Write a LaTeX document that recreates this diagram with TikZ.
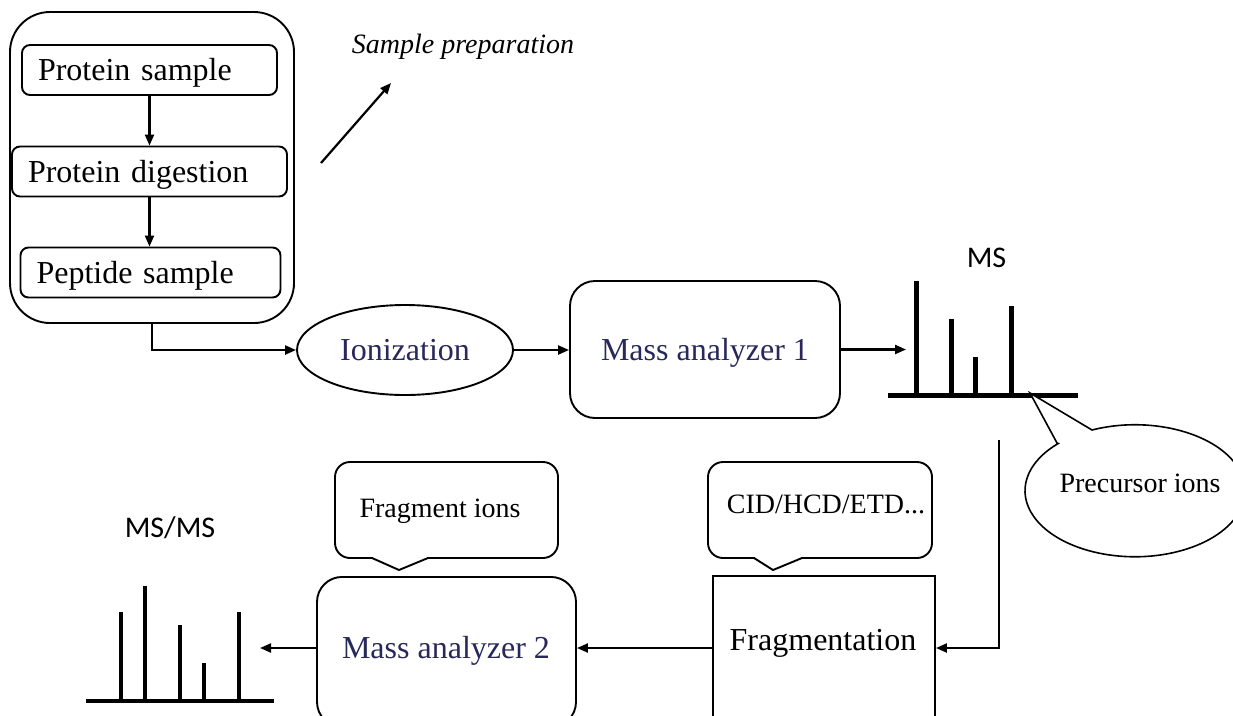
\documentclass[tikz,border=0pt]{standalone}
\usepackage{fontspec}
\setmainfont{Liberation Serif}
\newfontfamily\calfont{Carlito}
\usetikzlibrary{shapes.geometric,arrows.meta}
\definecolor{navy}{RGB}{40,40,90}
\begin{document}
\begin{tikzpicture}[x=1pt,y=-1pt,
  line width=1.9pt,
  arr/.style={line width=2.2pt,-{Triangle[length=11pt,width=9pt]}},
  rbox/.style={draw, rounded corners=#1, inner sep=0pt},
  rbox/.default=25pt,
  f32/.style={font=\fontsize{32}{36}\selectfont},
  f28/.style={font=\fontsize{28}{32}\selectfont},
  sansl/.style={font=\calfont\fontsize{30}{34}\selectfont},
  sbox/.style={draw, rounded corners=8pt, f32, align=left, inner xsep=16pt, inner ysep=0pt,
    text height=21pt, text depth=0pt, minimum height=50pt},
  spec/.style={line width=5pt},
  specb/.style={line width=4.5pt},
]
\useasboundingbox (0,0) rectangle (1233,715);
\fill[white] (0,0) rectangle (1233,715);
\clip (0,0) rectangle (1233,715);

% sample preparation group
\node[rbox=40pt, minimum width=284pt, minimum height=311pt] (outer) at (152,167.5) {};
\node[sbox, text width=223pt] (ps) at (149.5,70) {Protein sample};
\node[sbox, text width=243pt] (pd) at (149.5,171.5) {Protein digestion};
\node[sbox, text width=228pt] (pep) at (150.5,272.5) {Peptide sample};
\draw[arr] (ps.south) -- (ps.south |- pd.north);
\draw[arr] (pd.south) -- (pd.south |- pep.north);

\coordinate (sp1) at (321,163);
\coordinate (sp2) at (391,83);
\draw[arr] (sp1) -- (sp2);
\node[font=\itshape\fontsize{28}{32}\selectfont, anchor=base] (spt) at (463,53) {Sample preparation};

% ionization and MS1
\node[ellipse, draw, minimum width=216pt, minimum height=90pt, inner sep=0pt, f32, text=navy,
  text height=21pt, text depth=0pt] (ion) at (405,350) {Ionization};
\draw[arr] (outer.south) |- (ion.west);
\node[rbox=25pt, minimum width=270pt, minimum height=137pt, f32, text=navy,
  text height=21pt, text depth=0pt] (ma1) at (705,349.5) {Mass analyzer 1};
\draw[arr] (ion.east) -- (ion.east -| ma1.west);
\coordinate (msin) at (906,349.5);
\draw[arr] (ma1.east) -- (msin);

% MS spectrum
\draw[spec] (888,395) -- (1078,395);
\foreach \x/\t in {916/281,951/319,975/357,1011/306} \draw[spec] (\x,395) -- (\x,\t);
\node[sansl, anchor=base] (mslab) at (986.5,267) {MS};

% precursor ions callout
\filldraw[fill=white, line width=1.6pt] (1057,443) -- (1030,393) -- (1092,430)
  arc[start angle=247, end angle=585.7, x radius=110, y radius=66] -- cycle;
\node[f28, anchor=base] (prec) at (1140,492) {Precursor ions};

% fragmentation
\node[draw, minimum width=222pt, minimum height=144pt, inner sep=0pt] (frag) at (824,648) {};
\node[f32, anchor=base] (fragt) at (823,650) {Fragmentation};
\coordinate (vtop) at (999,440);
\draw[arr] (vtop) |- (frag.east);

% mass analyzer 2
\node[rbox=25pt, minimum width=259pt, minimum height=150pt, anchor=north] (ma2) at (446.5,576) {};
\node[f32, text=navy, anchor=base] (ma2t) at (446,658) {Mass analyzer 2};
\draw[arr] (frag.west) -- (frag.west -| ma2.east);
\coordinate (msmsin) at (260,648);
\draw[arr] (frag.west -| ma2.west) -- (msmsin);

% CID callout
\node[draw, rounded corners=15pt, minimum width=224pt, minimum height=96pt, inner sep=0pt] (cid) at (820,510) {};
\fill[white] (755,555) rectangle (801,561);
\draw (754,558) -- (773,570) -- (802,558);
\node[f28, anchor=base] (cidt) at (826,513) {CID/HCD/ETD...};

% fragment ions callout
\node[draw, rounded corners=15pt, minimum width=223pt, minimum height=96pt, inner sep=0pt] (fic) at (446.5,510) {};
\fill[white] (373,555) rectangle (427,561);
\draw (372,558) -- (399,570) -- (428,558);
\node[f28, anchor=base] (fit) at (440,517) {Fragment ions};

% MS/MS spectrum
\draw[specb] (86,701) -- (274,701);
\foreach \x/\t in {121/612,145/586,180/625,204/663,239/612} \draw[specb] (\x,701) -- (\x,\t);
\node[sansl, anchor=base] (msmslab) at (170,537) {MS/MS};
\end{tikzpicture}
\end{document}
